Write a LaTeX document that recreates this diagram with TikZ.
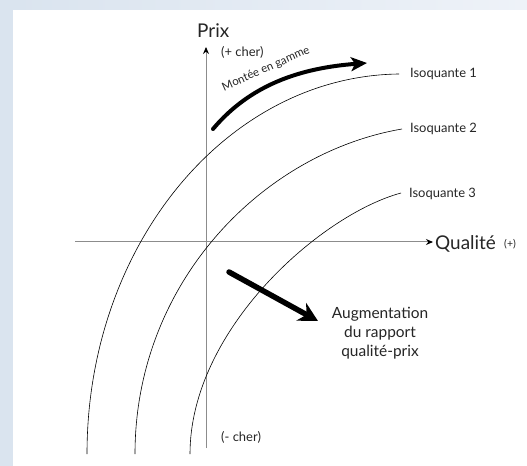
\documentclass[tikz,border=0pt]{standalone}
\usepackage{fontspec}
\setmainfont{Lato}
\usetikzlibrary{arrows.meta}
\definecolor{bgblue}{HTML}{DAE4EF}
\definecolor{bglight}{HTML}{EEF2F8}
\begin{document}
\begin{tikzpicture}[x=1bp,y=-1bp,
  axis/.style={draw=black!45, line width=1bp},
  axtip/.style={-{Stealth[black,length=7bp,width=6bp]}},
  iso/.style={draw=black, line width=0.6bp},
  fat/.style={line width=#1, line cap=round},
  lbl/.style={inner sep=0pt, text=black!85}]
\useasboundingbox (0,0) rectangle (527,466);
\fill[bgblue] (0,0) rectangle (527,466);
\shade[left color=bgblue, right color=bglight] (13,0) rectangle (527,10);
\fill[white] (13,10) rectangle (527,466);

% axes
\coordinate (ybot) at (206,448);
\coordinate (ytop) at (206,47);
\coordinate (xl) at (75,242);
\coordinate (xr) at (433,242);
\draw[axis, axtip] (ybot) -- (ytop);
\draw[axis, axtip] (xl) -- (xr);

% labels
\node[lbl, anchor=base west, font=\fontsize{19}{22}\selectfont] (prix) at (197,38) {Prix};
\node[lbl, anchor=base west, font=\fontsize{19}{22}\selectfont] (qual) at (435,250) {Qualité};
\node[lbl, anchor=base west, font=\fontsize{10.5}{12}\selectfont] (plus) at (504,248) {(+)};
\node[lbl, anchor=base west, font=\fontsize{13}{15}\selectfont] (cher) at (221,57) {(+ cher)};
\node[lbl, anchor=base west, font=\fontsize{13}{15}\selectfont] (mcher) at (221,441) {(- cher)};
\node[lbl, anchor=base west, font=\fontsize{13}{15}\selectfont] (iso1) at (410,78) {Isoquante 1};
\node[lbl, anchor=base west, font=\fontsize{13}{15}\selectfont] (iso2) at (410,133) {Isoquante 2};
\node[lbl, anchor=base west, font=\fontsize{13}{15}\selectfont] (iso3) at (409,198) {Isoquante 3};
\node[lbl, align=center, font=\fontsize{15.5}{19}\selectfont] (aug) at (380,333) {Augmentation\\du rapport\\qualité-prix};
\node[lbl, rotate=24, font=\fontsize{11.5}{13}\selectfont] (montee) at (266,69) {Montée en gamme};

% isoquants
\coordinate (b1) at (87,454);
\coordinate (b2) at (135,454);
\coordinate (b3) at (190,454);
\draw[iso] (b1) .. controls (87,245) and (227,76) .. (399,74);
\draw[iso] (b2) .. controls (135,283) and (262,153) .. (402,129);
\draw[iso] (b3) .. controls (190,330) and (320,215) .. (401,193);

% arrows
\coordinate (m0) at (213,129);
\coordinate (m1) at (367,63);
\draw[fat=4bp, -{Stealth[length=16bp,width=14bp,inset=4bp]}] (m0) .. controls (250,85) and (300,68) .. (m1);
\coordinate (a0) at (229,272);
\coordinate (a1) at (318,321);
\draw[fat=5.5bp, -{Stealth[length=19bp,width=20bp,inset=6bp]}] (a0) -- (a1);
\end{tikzpicture}
\end{document}
